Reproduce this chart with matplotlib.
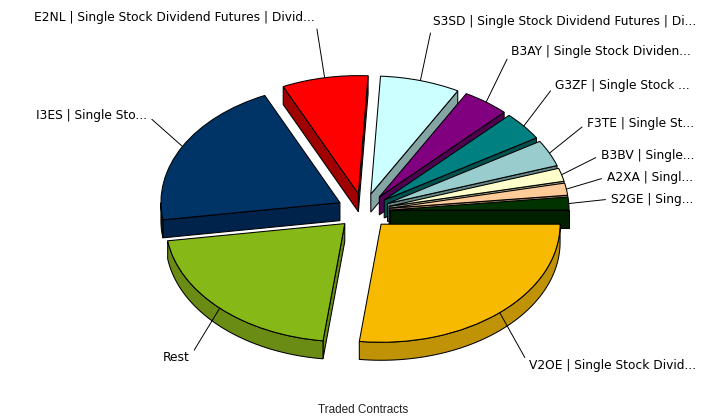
'''
Exploded 3D-look pie of traded contracts per product.
'''

import numpy as np
import matplotlib
matplotlib.use('Agg')
import matplotlib.pyplot as plt
from matplotlib.patches import Polygon

labels = ['V2OE | Single Stock Divid...', 'Rest', 'I3ES | Single Sto...',
          'E2NL | Single Stock Dividend Futures | Divid...',
          'S3SD | Single Stock Dividend Futures | Di...',
          'B3AY | Single Stock Dividen...', 'G3ZF | Single Stock ...',
          'F3TE | Single St...', 'B3BV | Single...', 'A2XA | Singl...',
          'S2GE | Sing...']
shares = [26.9, 20.7, 20.4, 7.75, 7.2, 4.2, 3.9, 3.6, 1.8, 1.65, 1.75]
colors = ['#F8BA00', '#86B817', '#003366', '#FF0000', '#CCFFFF', '#800080',
          '#008080', '#99CCCC', '#FFFFCC', '#FFCC99', '#003300']
wall_colors = ['#C09205', '#6A8C14', '#00234B', '#A00000', '#85A5A5', '#500050',
               '#005050', '#638585', '#A5A585', '#A58563', '#002000']

# where each label sits, in image pixels (x of the text end nearest the pie, y)
label_px = [(529, 365), (190, 357), (147, 115), (315, 17), (433, 21), (511, 51),
            (555, 85), (587, 123), (601, 155), (607, 177), (611, 199)]
label_side = ['left', 'right', 'right', 'right', 'left', 'left',
              'left', 'left', 'left', 'left', 'left']

W, H = 723, 419
CX, CY = 363.4, 211.0
RX, RY = 179.0, 118.1
DEPTH = 18.0 / RY
EDGE = 0.75


def to_data(px, py):
    return (px - CX) / RX, (CY - py) / RY


def edge_point(w, theta):
    t = np.radians(theta)
    return w.center[0] + w.r * np.cos(t), w.center[1] + w.r * np.sin(t)


def add_wall(ax, pts, color, z):
    ax.add_patch(Polygon(pts, closed=True, facecolor=color, edgecolor='black',
                         linewidth=EDGE, zorder=z, clip_on=False))


fig = plt.figure(figsize=(W / 100, H / 100), dpi=100)
ax = fig.add_axes([0, 0, 1, 1])

wedges, _ = ax.pie(shares, colors=colors, radius=1, startangle=0, counterclock=False,
                   explode=[0.149] * len(shares),
                   wedgeprops={'edgecolor': 'black', 'linewidth': EDGE})

ax.set_aspect('auto')
ax.set_xlim(-CX / RX, (W - CX) / RX)
ax.set_ylim((CY - H) / RY, CY / RY)
ax.axis('off')

# back slices first so the nearer ones overlap their walls
mids = [(w.theta1 + w.theta2) / 2 for w in wedges]
order = np.argsort([-np.sin(np.radians(m)) for m in mids])

for rank, i in enumerate(order):
    w = wedges[i]
    z = 3 + rank
    dark = wall_colors[i]
    cx, cy = w.center

    # radial walls, only when they face the viewer
    for theta, normal in [(w.theta1, w.theta1 - 90), (w.theta2, w.theta2 + 90)]:
        if np.sin(np.radians(normal)) < 0:
            x, y = edge_point(w, theta)
            add_wall(ax, [(cx, cy), (x, y), (x, y - DEPTH), (cx, cy - DEPTH)], dark, z)

    # outer wall along the front part of the rim
    for lo, hi in [(w.theta1, w.theta2), (w.theta1 + 360, w.theta2 + 360)]:
        lo, hi = max(lo, -180), min(hi, 0)
        if hi > lo:
            t = np.radians(np.linspace(lo, hi, 60))
            xs = cx + w.r * np.cos(t)
            ys = cy + w.r * np.sin(t)
            pts = list(zip(xs, ys)) + list(zip(xs[::-1], ys[::-1] - DEPTH))
            add_wall(ax, pts, dark, z)

    w.set_zorder(z + 0.5)
    w.set_clip_on(False)

for i, w in enumerate(wedges):
    rim = edge_point(w, mids[i])
    side = label_side[i]
    ax.annotate(labels[i], xy=rim, xytext=to_data(*label_px[i]), fontsize=8.85,
                family='DejaVu Sans', color='black', va='center', ha=side, zorder=30,
                arrowprops=dict(arrowstyle='-', color='black', lw=0.7,
                                shrinkA=2, shrinkB=0,
                                relpos=(1, 0.5) if side == 'right' else (0, 0.5)))

ax.text(*to_data(363, 410), 'Traded Contracts', fontsize=8.5, family='Liberation Sans',
        ha='center', va='center', color='#222222')

fig.savefig('out.png', dpi=100, facecolor='white')
